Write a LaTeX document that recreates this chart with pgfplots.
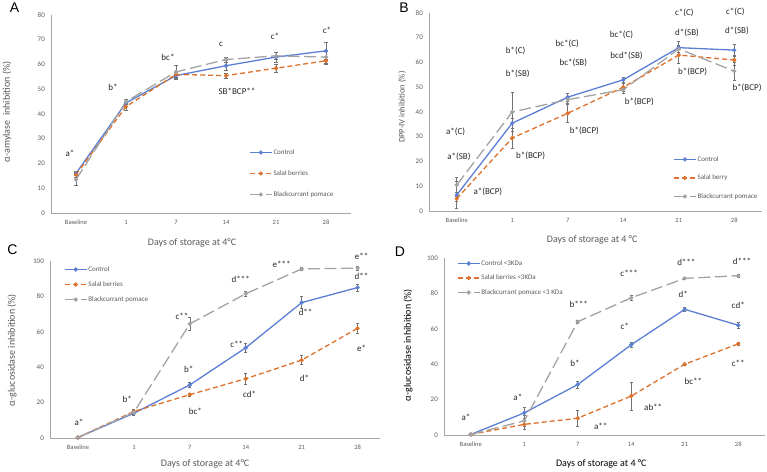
\documentclass[border=0pt]{standalone}
\usepackage{pgfplots}
\pgfplotsset{compat=1.18}
\usepackage{fontspec}
\setmainfont{Carlito}
\newfontfamily\arialfont{Liberation Sans}
\definecolor{cblue}{RGB}{91,127,212}
\definecolor{corange}{RGB}{222,113,43}
\definecolor{cgray}{RGB}{163,163,163}
\definecolor{tickgray}{RGB}{89,89,89}
\definecolor{ebar}{RGB}{115,115,115}
\tikzset{annot/.style={font=\fontsize{9}{10}\selectfont, text=black!85, inner sep=0pt},
  letter/.style={font=\arialfont\fontsize{14}{15}\selectfont, inner sep=0pt}}
\pgfplotsset{
  panel/.style={
    scale only axis,
    axis lines=left,
    axis line style={-, draw=gray!70, line width=0.8pt},
    major tick length=0pt,
    xmin=-0.5, xmax=5.5, ymin=0,
    xtick={0,...,5},
    xticklabels={Baseline,1,7,14,21,28},
    xticklabel style={font=\fontsize{6.5}{7}\selectfont, text=tickgray, inner sep=0pt, anchor=north, yshift=-7pt},
    yticklabel style={font=\fontsize{7}{8}\selectfont, text=tickgray, inner sep=0pt, anchor=east, xshift=-6pt},
    /pgf/number format/assume math mode=true,
    clip=false,
    legend cell align=left,
    legend style={draw=none, fill=none, inner sep=0pt, font=\fontsize{7}{8}\selectfont, text=tickgray,
      nodes={inner sep=1pt, text height=5pt, text depth=1.5pt}, anchor=north west},
    legend image code/.code={\draw[mark repeat=2, mark phase=2, ##1] plot coordinates {(0pt,0pt) (11pt,0pt) (22pt,0pt)};},
  },
  ctrl/.style={cblue, line width=1.3pt, mark=*, mark size=1.4pt, mark options={solid, fill=cblue},
    error bars/.cd, y dir=both, y explicit, error bar style={ebar, line width=0.6pt, solid},
    error mark options={ebar, rotate=90, mark size=1.6pt, line width=0.6pt, solid}},
  salal/.style={corange, line width=1.3pt, dash pattern=on 5pt off 3pt, mark=*, mark size=1.4pt, mark options={solid, fill=corange},
    error bars/.cd, y dir=both, y explicit, error bar style={ebar, line width=0.6pt, solid},
    error mark options={ebar, rotate=90, mark size=1.6pt, line width=0.6pt, solid}},
  bcp/.style={cgray, line width=1.3pt, dash pattern=on 12pt off 4.5pt, mark=*, mark size=1.4pt, mark options={solid, fill=cgray},
    error bars/.cd, y dir=both, y explicit, error bar style={ebar, line width=0.6pt, solid},
    error mark options={ebar, rotate=90, mark size=1.6pt, line width=0.6pt, solid}},
}
\begin{document}
\begin{tikzpicture}
\useasboundingbox (0pt,0pt) rectangle (767pt,471pt);
% ---------------- Panel A ----------------
\begin{axis}[panel, at={(51pt,258pt)}, anchor=south west, width=300pt, height=198pt,
  ymax=80, ytick={0,10,...,80},
  xlabel={Days of storage at 4°C}, ylabel={α-amylase\ \ inhibition (\%)},
  xlabel style={at={(axis description cs:0.47,-0.152)}, anchor=center, font=\fontsize{10}{11}\selectfont, text=tickgray},
  ylabel style={at={(axis description cs:-0.147,0.51)}, anchor=center, font=\fontsize{10}{11}\selectfont, text=tickgray},
  legend style={at={(0.66,0.328)}, row sep=12.5pt}]
\addplot[ctrl] table[x=x,y=y,y error=e] {
x y e
0 16 0.8
1 44.5 1.5
2 55.5 1.5
3 59.5 2
4 63 2
5 65.5 3.5
};
\addplot[salal] table[x=x,y=y,y error=e] {
x y e
0 15.5 1
1 43 1.5
2 56 1
3 55.5 1
4 58.5 1.5
5 61.5 1.5
};
\addplot[bcp] table[x=x,y=y,y error=e] {
x y e
0 13.5 2.5
1 45 1
2 57 2.5
3 62 1
4 63.5 1.5
5 63 2.5
};
\legend{Control, Salal berries, Blackcurrant pomace}
\node[annot] at (axis cs:-0.12,24.2) {a*};
\node[annot] at (axis cs:0.74,50.9) {b*};
\node[annot] at (axis cs:1.84,63) {bc*};
\node[annot] at (axis cs:2.9,68.3) {c};
\node[annot] at (axis cs:3.98,71.5) {c*};
\node[annot] at (axis cs:5.02,74) {c*};
\node[annot] at (axis cs:3.22,49.3) {SB*BCP**};
\end{axis}
% ---------------- Panel B ----------------
\begin{axis}[panel, at={(429pt,260pt)}, anchor=south west, width=333pt, height=198pt,
  ymax=80, ytick={0,10,...,80},
  xlabel={Days of storage at 4 °C}, ylabel={DPP-IV inhibition (\%)},
  xlabel style={at={(axis description cs:0.49,-0.146)}, anchor=center, font=\fontsize{10}{11}\selectfont, text=tickgray},
  ylabel style={at={(axis description cs:-0.081,0.525)}, anchor=center, font=\fontsize{8.5}{10}\selectfont, text=tickgray},
  legend style={at={(0.733,0.283)}, row sep=10pt}]
\addplot[ctrl] table[x=x,y=y,y error=e] {
x y e
0 6.5 5.5
1 35.5 2
2 46 1.5
3 53 1
4 66 2.5
5 65 2.5
};
\addplot[salal] table[x=x,y=y,y error=e] {
x y e
0 5 1
1 29.5 4
2 39.5 3.5
3 50 1.5
4 63 3.5
5 61 2
};
\addplot[bcp] table[x=x,y=y,y error=e] {
x y e
0 10.5 3
1 40 8
2 45 1.5
3 49 1.5
4 65.5 1.5
5 56.5 3.5
};
\legend{Control, Salal berry, Blackcurrant pomace}
\node[annot] at (axis cs:-0.02,31.9) {a*(C)};
\node[annot] at (axis cs:0.04,21.8) {a*(SB)};
\node[annot] at (axis cs:0.56,7.7) {a*(BCP)};
\node[annot] at (axis cs:1.06,64.6) {b*(C)};
\node[annot] at (axis cs:1.1,55.4) {b*(SB)};
\node[annot] at (axis cs:1.33,22.2) {b*(BCP)};
\node[annot] at (axis cs:1.99,67.5) {bc*(C)};
\node[annot] at (axis cs:2.1,59.8) {bc*(SB)};
\node[annot] at (axis cs:2.3,32.3) {b*(BCP)};
\node[annot] at (axis cs:2.97,71.1) {bc*(C)};
\node[annot] at (axis cs:3.06,62.6) {bcd*(SB)};
\node[annot] at (axis cs:3.29,44) {b*(BCP)};
\node[annot] at (axis cs:4.1,80) {c*(C)};
\node[annot] at (axis cs:4.15,72) {d*(SB)};
\node[annot] at (axis cs:4.25,56.2) {b*(BCP)};
\node[annot] at (axis cs:5.02,80.4) {c*(C)};
\node[annot] at (axis cs:5.05,72.7) {d*(SB)};
\node[annot] at (axis cs:5.23,49.7) {b*(BCP)};
\end{axis}
% ---------------- Panel C ----------------
\begin{axis}[panel, at={(50pt,33pt)}, anchor=south west, width=330pt, height=177pt,
  xmax=5.4, ymax=100, ytick={0,20,...,100},
  xlabel={Days of storage at 4°C}, ylabel={α-glucosidase inhibition (\%)},
  xlabel style={at={(axis description cs:0.47,-0.147)}, anchor=center, font=\fontsize{10}{11}\selectfont, text=tickgray},
  ylabel style={at={(axis description cs:-0.115,0.497)}, anchor=center, font=\fontsize{10}{11}\selectfont, text=tickgray},
  legend style={at={(0.042,0.977)}, row sep=6.5pt}]
\addplot[ctrl] table[x=x,y=y,y error=e] {
x y e
0 0.3 0.3
1 14 1
2 30 1.5
3 51 2.5
4 76.5 3.5
5 85 2
};
\addplot[salal] table[x=x,y=y,y error=e] {
x y e
0 0.3 0.3
1 15 1
2 24.5 1
3 33.5 3
4 44 2.5
5 62 3
};
\addplot[bcp] table[x=x,y=y,y error=e] {
x y e
0 0.3 0.3
1 14.5 1
2 64.5 3.5
3 81.5 1.5
4 95.5 1
5 96 1
};
\legend{Control, Salal berries, Blackcurrant pomace}
\node[annot] at (axis cs:0.02,9) {a*};
\node[annot] at (axis cs:0.88,22) {b*};
\node[annot] at (axis cs:1.86,68.9) {c**};
\node[annot] at (axis cs:1.98,39) {b*};
\node[annot] at (axis cs:2.1,15.3) {bc*};
\node[annot] at (axis cs:2.91,89.8) {d***};
\node[annot] at (axis cs:2.84,53.1) {c**};
\node[annot] at (axis cs:3.07,24.9) {cd*};
\node[annot] at (axis cs:3.64,98.3) {e***};
\node[annot] at (axis cs:4.07,71.2) {d**};
\node[annot] at (axis cs:4.05,33.9) {d*};
\node[annot] at (axis cs:5.07,102.8) {e**};
\node[annot] at (axis cs:5.07,91.5) {d**};
\node[annot] at (axis cs:5.07,50.8) {e*};
\end{axis}
% ---------------- Panel D ----------------
\begin{axis}[panel, at={(444pt,36pt)}, anchor=south west, width=321pt, height=177pt,
  ymax=100, ytick={0,20,...,100},
  xlabel={Days of storage at 4 °C}, ylabel={α-glucosidase inhibition (\%)},
  xlabel style={at={(axis description cs:0.49,-0.164)}, anchor=center, font=\fontsize{10}{11}\selectfont, text=black},
  ylabel style={at={(axis description cs:-0.112,0.508)}, anchor=center, font=\fontsize{10}{11}\selectfont, text=black},
  legend style={at={(0.04,0.994)}, row sep=6pt}]
\addplot[ctrl] table[x=x,y=y,y error=e] {
x y e
0 0.3 0
1 12.5 3
2 28.5 2
3 51 1.5
4 71 1
5 62 1.5
};
\addplot[salal] table[x=x,y=y,y error=e] {
x y e
0 0.3 0
1 6 2.5
2 9.5 4.5
3 22 8
4 40 0.7
5 51.5 0.8
};
\addplot[bcp] table[x=x,y=y,y error=e] {
x y e
0 0.3 0
1 8 3
2 64 1
3 77.5 1.5
4 88.5 0.6
5 90 1
};
\legend{Control <3KDa, Salal berries <3KDa, Blackcurrant pomace <3 KDa}
\node[annot] at (axis cs:-0.09,10.2) {a*};
\node[annot] at (axis cs:0.88,21.5) {a*};
\node[annot] at (axis cs:2.02,74) {b***};
\node[annot] at (axis cs:1.95,40.7) {b*};
\node[annot] at (axis cs:2.43,5.1) {a**};
\node[annot] at (axis cs:2.96,91.5) {c***};
\node[annot] at (axis cs:2.88,61.6) {c*};
\node[annot] at (axis cs:3.41,15.8) {ab**};
\node[annot] at (axis cs:4.03,97.7) {d***};
\node[annot] at (axis cs:3.97,79.7) {d*};
\node[annot] at (axis cs:4.16,30.5) {bc**};
\node[annot] at (axis cs:5.07,98.3) {d***};
\node[annot] at (axis cs:5.0,73.4) {cd*};
\node[annot] at (axis cs:5.0,40.7) {c**};
\end{axis}
% panel letters
\node[letter] at (14.5pt,463pt) {A};
\node[letter] at (404pt,463pt) {B};
\node[letter] at (12.5pt,221pt) {C};
\node[letter] at (400pt,219pt) {D};
\end{tikzpicture}
\end{document}
